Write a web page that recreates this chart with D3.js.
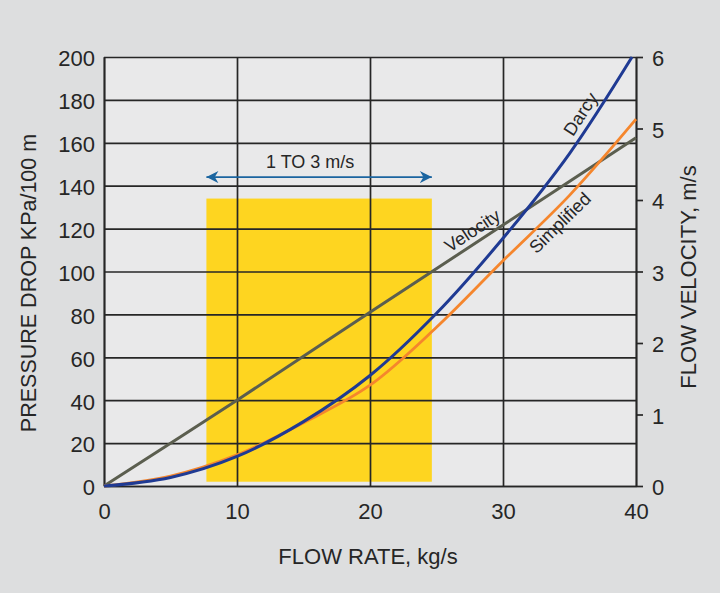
<!DOCTYPE html>
<html>
<head>
<meta charset="utf-8">
<script src="https://cdn.jsdelivr.net/npm/d3@7"></script>
<style>
  body { margin: 0; background: #dddedf; }
  svg { display: block; font-family: "Liberation Sans", Arial, Helvetica, sans-serif; }
</style>
</head>
<body>
<div id="graph"></div>
<script>
// chart values
var flowTicks = [0, 10, 20, 30, 40];
var pressureTicks = [0, 20, 40, 60, 80, 100, 120, 140, 160, 180, 200];
var velocityTicks = [0, 1, 2, 3, 4, 5, 6];

var darcyFlow = [0, 5, 10, 15, 20, 25, 30, 35, 39.7];
var darcyPressure = [0, 4, 13.8, 30, 51.5, 80.5, 115.5, 155, 200];

var simplifiedFlow = [0, 5, 10, 15, 20, 25, 30, 35, 40];
var simplifiedPressure = [0, 4.6, 14.5, 29.5, 47, 74, 105, 135.5, 171];

var velocityFlow = [0, 10, 20, 30, 40];
var velocityValues = [0, 1.2, 2.43, 3.65, 4.87];

// 1 to 3 m/s band
var bandFlow = [7.7, 24.65];
var bandPressure = [2, 134];
var arrowPressure = 144;

var MARGIN = {left: 104, top: 57, right: 84, bottom: 107};
var W = 720, H = 593;
var width = W - MARGIN.left - MARGIN.right;
var height = H - MARGIN.top - MARGIN.bottom;

var INK = "#262626";

var svg = d3.select("#graph").append("svg")
    .attr("width", W)
    .attr("height", H);

svg.append("rect").attr("width", W).attr("height", H).attr("fill", "#dddedf");

var chart = svg.append("g")
    .attr("transform", "translate(" + MARGIN.left + "," + MARGIN.top + ")");

var xscale = d3.scaleLinear().domain([0, 40]).range([0, width]);
var yscale = d3.scaleLinear().domain([0, 200]).range([height, 0]);
var vscale = d3.scaleLinear().domain([0, 6]).range([height, 0]);

// plot background
chart.append("rect")
    .attr("width", width).attr("height", height)
    .attr("fill", "#e9e9ea");

// yellow band
chart.append("rect")
    .attr("x", xscale(bandFlow[0]))
    .attr("y", yscale(bandPressure[1]))
    .attr("width", xscale(bandFlow[1]) - xscale(bandFlow[0]))
    .attr("height", yscale(bandPressure[0]) - yscale(bandPressure[1]))
    .attr("fill", "#fed520");

// grid + axes
var xAxis = chart.append("g")
    .attr("transform", "translate(0," + height + ")")
    .call(d3.axisBottom(xscale).tickValues(flowTicks).tickSize(-height).tickSizeOuter(0).tickPadding(17));

var yAxis = chart.append("g")
    .call(d3.axisLeft(yscale).tickValues(pressureTicks).tickSize(-width).tickSizeOuter(0).tickPadding(9));

var vAxis = chart.append("g")
    .attr("transform", "translate(" + width + ",0)")
    .call(d3.axisRight(vscale).tickValues(velocityTicks).tickFormat(d3.format("d"))
        .tickSize(7).tickSizeOuter(0).tickPadding(9));

chart.selectAll(".domain, .tick line")
    .attr("stroke", INK)
    .attr("stroke-width", 1.7);

chart.selectAll(".tick text")
    .attr("fill", INK)
    .style("font-size", "22px");

yAxis.selectAll(".tick text").attr("dy", "0.4em");
vAxis.selectAll(".tick text").attr("dy", "0.4em");

// curves
function zip(xs, ys) {
    return xs.map(function (x, i) { return [x, ys[i]]; });
}

var pressureLine = d3.line()
    .x(function (d) { return xscale(d[0]); })
    .y(function (d) { return yscale(d[1]); })
    .curve(d3.curveCatmullRom);

var velocityLine = d3.line()
    .x(function (d) { return xscale(d[0]); })
    .y(function (d) { return vscale(d[1]); })
    .curve(d3.curveCatmullRom);

var velocityData = zip(velocityFlow, velocityValues);
var simplifiedData = zip(simplifiedFlow, simplifiedPressure);
var darcyData = zip(darcyFlow, darcyPressure);

chart.append("path")
    .attr("d", velocityLine(velocityData))
    .attr("fill", "none")
    .attr("stroke", "#5b5e4f")
    .attr("stroke-width", 3);

chart.append("path")
    .attr("d", pressureLine(simplifiedData))
    .attr("fill", "none")
    .attr("stroke", "#f5862d")
    .attr("stroke-width", 2.8);

chart.append("path")
    .attr("d", pressureLine(darcyData))
    .attr("fill", "none")
    .attr("stroke", "#1f3a93")
    .attr("stroke-width", 3);

// labels that sit along a curve
function interp(xs, ys, t) {
    return d3.scaleLinear().domain(xs).range(ys)(t);
}

function curveLabel(text, xs, ys, scale, t, dy) {
    var px = xscale(t), py = scale(interp(xs, ys, t));
    var px2 = xscale(t + 0.5), py2 = scale(interp(xs, ys, t + 0.5));
    var angle = Math.atan2(py2 - py, px2 - px) * 180 / Math.PI;
    chart.append("text")
        .attr("transform", "translate(" + px + "," + py + ") rotate(" + angle + ")")
        .attr("text-anchor", "middle")
        .attr("dy", dy)
        .attr("fill", INK)
        .style("font-size", "18px")
        .text(text);
}

curveLabel("Velocity", velocityFlow, velocityValues, vscale, 28.2, -6);
curveLabel("Darcy", darcyFlow, darcyPressure, yscale, 36.6, -6);
curveLabel("Simplified", simplifiedFlow, simplifiedPressure, yscale, 33.6, 19);

// double-headed arrow
var defs = svg.append("defs");
["start", "end"].forEach(function (k) {
    defs.append("marker")
        .attr("id", "head-" + k)
        .attr("viewBox", "0 0 10 10")
        .attr("refX", k === "end" ? 10 : 0)
        .attr("refY", 5)
        .attr("markerWidth", 22)
        .attr("markerHeight", 12)
        .attr("markerUnits", "userSpaceOnUse")
        .attr("orient", "auto")
        .append("path")
        .attr("d", k === "end" ? "M0,0 L10,5 L0,10 L3,5 Z" : "M10,0 L0,5 L10,10 L7,5 Z")
        .attr("fill", "#1b65a0");
});

chart.append("line")
    .attr("x1", xscale(bandFlow[0]))
    .attr("x2", xscale(bandFlow[1]))
    .attr("y1", yscale(arrowPressure))
    .attr("y2", yscale(arrowPressure))
    .attr("stroke", "#1b65a0")
    .attr("stroke-width", 1.6)
    .attr("marker-start", "url(#head-start)")
    .attr("marker-end", "url(#head-end)");

chart.append("text")
    .attr("x", xscale(15.5))
    .attr("y", yscale(arrowPressure) - 9)
    .attr("text-anchor", "middle")
    .attr("fill", INK)
    .style("font-size", "18px")
    .text("1 TO 3 m/s");

// axis titles
svg.append("text")
    .attr("x", 368).attr("y", 564)
    .attr("text-anchor", "middle")
    .attr("fill", INK)
    .style("font-size", "22px")
    .text("FLOW RATE, kg/s");

svg.append("text")
    .attr("transform", "translate(36,283) rotate(-90)")
    .attr("text-anchor", "middle")
    .attr("fill", INK)
    .style("font-size", "21.5px")
    .text("PRESSURE DROP KPa/100 m");

svg.append("text")
    .attr("transform", "translate(696,277) rotate(-90)")
    .attr("text-anchor", "middle")
    .attr("fill", INK)
    .style("font-size", "22px")
    .text("FLOW VELOCITY, m/s");
</script>
</body>
</html>
